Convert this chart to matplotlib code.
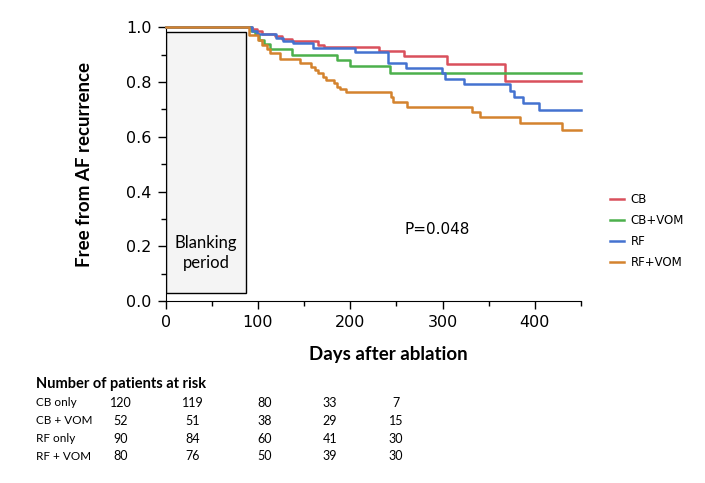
import matplotlib
matplotlib.use('Agg')
import matplotlib.pyplot as plt
from matplotlib.patches import Rectangle
from matplotlib.ticker import MultipleLocator

# 生存曲线数据 (天数, 无复发比例)
cb_days = [0, 93, 99, 104, 118, 126, 137, 165, 171, 231, 258, 305, 368, 450]
cb_surv = [1.0, 0.993, 0.985, 0.977, 0.968, 0.958, 0.949, 0.936, 0.928, 0.913, 0.895, 0.866, 0.804, 0.804]

cbvom_days = [0, 92, 97, 101, 106, 113, 137, 186, 200, 243, 450]
cbvom_surv = [1.0, 0.985, 0.975, 0.955, 0.940, 0.922, 0.900, 0.879, 0.860, 0.832, 0.832]

rf_days = [0, 93, 99, 120, 127, 138, 160, 205, 241, 260, 299, 303, 323, 373, 377, 387, 404, 450]
rf_surv = [1.0, 0.988, 0.975, 0.960, 0.951, 0.942, 0.925, 0.909, 0.871, 0.852, 0.832, 0.812, 0.792,
           0.767, 0.746, 0.725, 0.699, 0.699]

rfvom_days = [0, 90, 100, 104, 110, 113, 124, 146, 157, 162, 165, 170, 174, 182, 186, 189, 195,
              244, 246, 262, 332, 341, 384, 429, 450]
rfvom_surv = [1.0, 0.972, 0.954, 0.935, 0.920, 0.905, 0.883, 0.868, 0.856, 0.843, 0.832, 0.820,
              0.807, 0.795, 0.783, 0.775, 0.763, 0.745, 0.728, 0.710, 0.689, 0.671, 0.651, 0.625, 0.625]

labels = ['CB', 'CB+VOM', 'RF', 'RF+VOM']
colors = ['#d9505c', '#4cb04c', '#4472d0', '#d4832e']

# 风险人数表
risk_groups = ['CB only', 'CB + VOM', 'RF only', 'RF + VOM']
risk_counts = [
    [120, 119, 80, 33, 7],
    [52, 51, 38, 29, 15],
    [90, 84, 60, 41, 30],
    [80, 76, 50, 39, 30],
]

W, H = 705, 483
fig = plt.figure(figsize=(W / 100, H / 100), dpi=100)
ax = fig.add_axes([165.7 / W, 1 - 301 / H, (581 - 165.7) / W, (301 - 27.3) / H])

# blanking period 方框
ax.add_patch(Rectangle((0, 0.028), 87, 0.954, facecolor='#f4f4f4', edgecolor='black', linewidth=1.0, zorder=1))
ax.text(43.5, 0.175, 'Blanking\nperiod', ha='center', va='center', fontsize=12, family='Lato',
        linespacing=1.25, zorder=2)

curves = [(cb_days, cb_surv), (cbvom_days, cbvom_surv), (rf_days, rf_surv), (rfvom_days, rfvom_surv)]
for (d, s), lab, c in zip(curves, labels, colors):
    ax.step(d, s, where='post', color=c, linewidth=1.8, label=lab, clip_on=False, zorder=3)

ax.set_xlim(0, 450)
ax.set_ylim(0, 1.0)
ax.spines['top'].set_visible(False)
ax.spines['right'].set_visible(False)
ax.xaxis.set_major_locator(MultipleLocator(100))
ax.xaxis.set_minor_locator(MultipleLocator(50))
ax.yaxis.set_major_locator(MultipleLocator(0.2))
ax.yaxis.set_minor_locator(MultipleLocator(0.1))
ax.yaxis.set_major_formatter(matplotlib.ticker.FormatStrFormatter('%.1f'))
ax.tick_params(which='major', direction='out', length=6, width=1, labelsize=11.5, pad=4)
ax.tick_params(which='minor', direction='out', length=3.5, width=1)

ax.set_xlabel('Days after ablation', fontsize=13.5, fontweight='bold', family='Lato')
ax.xaxis.set_label_coords(0.535, -0.165)
ax.set_ylabel('Free from AF recurrence', fontsize=13.5, fontweight='bold', family='Lato')
ax.yaxis.set_label_coords(-0.175, 0.5)

ax.text(0.575, 0.262, 'P=0.048', transform=ax.transAxes, fontsize=11, ha='left', va='center')

ax.legend(loc='center left', bbox_to_anchor=(1.045, 0.255), frameon=False, fontsize=8.5,
          handlelength=1.2, handletextpad=0.5, labelspacing=0.68)

# 风险表
fig.text(36 / W, 1 - 384 / H, 'Number of patients at risk', fontsize=10.5, fontweight='bold',
         family='Lato', ha='left', va='center')
col_x = [121, 193, 265, 330, 396]
row_y = [403, 421, 439, 456]
for name, counts, y in zip(risk_groups, risk_counts, row_y):
    fig.text(36 / W, 1 - y / H, name, fontsize=8.5, family='Lato', ha='left', va='center')
    for cx, n in zip(col_x, counts):
        fig.text(cx / W, 1 - y / H, str(n), fontsize=9, family='Lato', ha='center', va='center')

fig.savefig('out.png', dpi=100)
